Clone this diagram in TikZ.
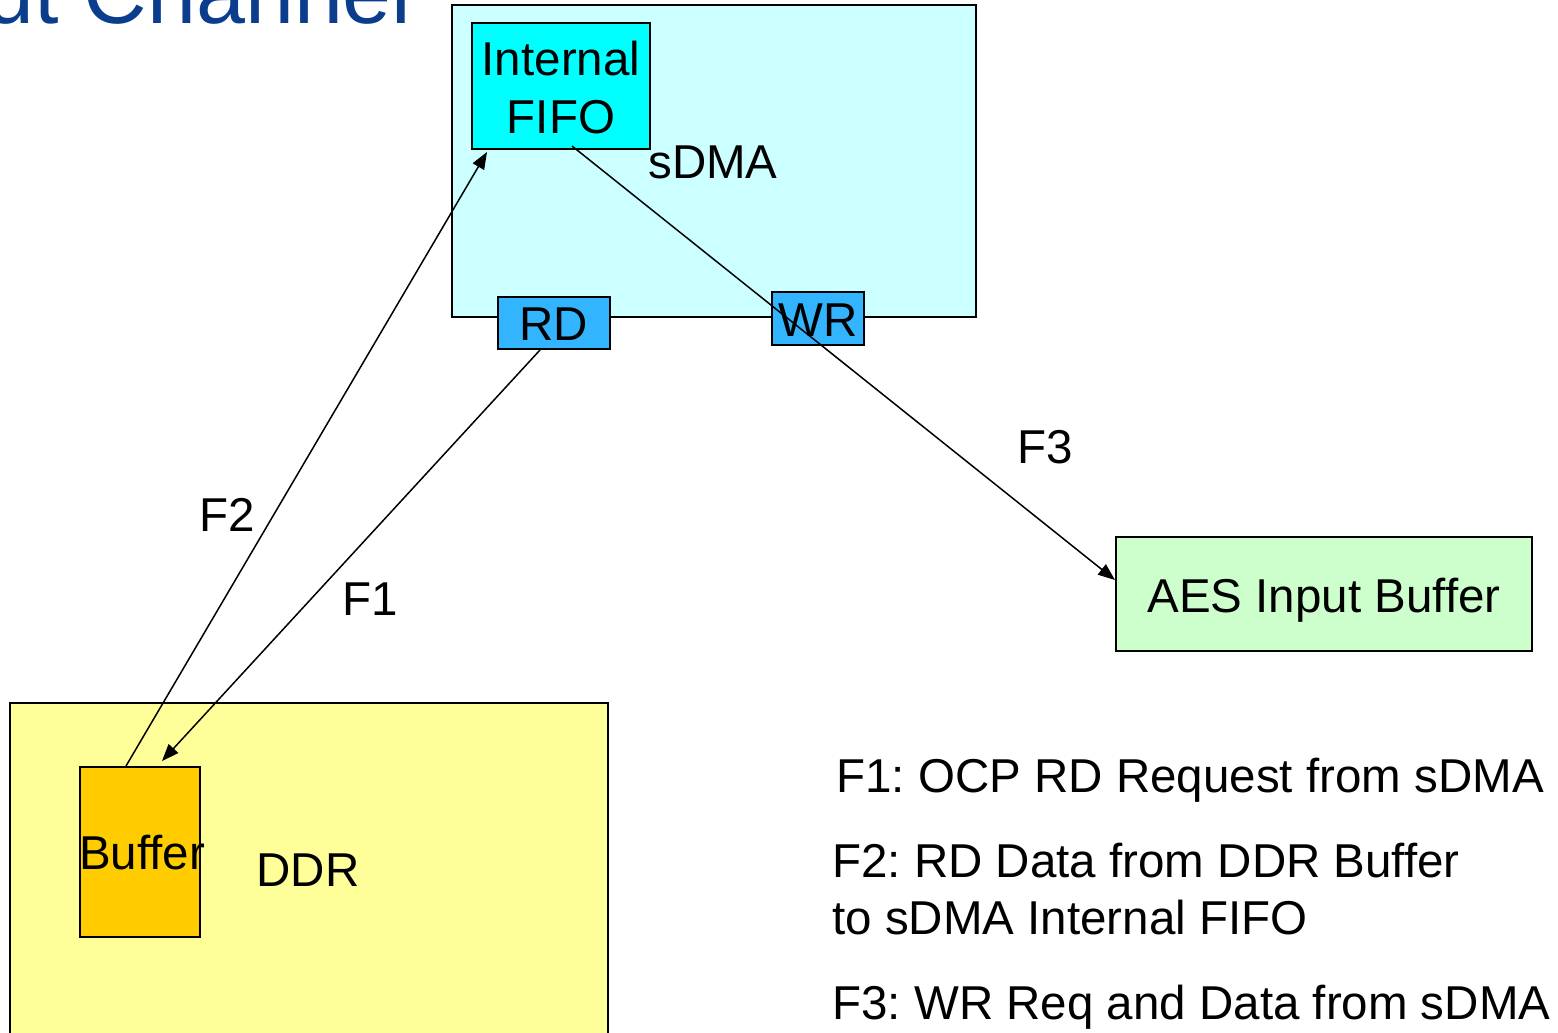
\documentclass[tikz,border=0pt]{standalone}
\usepackage{fontspec}
\setmainfont{Liberation Sans}
\usetikzlibrary{arrows.meta,calc}

\definecolor{titleblue}{RGB}{11,61,140}
\definecolor{sdmafill}{RGB}{204,255,255}
\definecolor{fifofill}{RGB}{0,255,255}
\definecolor{portfill}{RGB}{51,180,255}
\definecolor{aesfill}{RGB}{204,255,204}
\definecolor{ddrfill}{RGB}{255,255,153}
\definecolor{buffill}{RGB}{255,204,0}

\newcommand{\mainsize}{\fontsize{23.75}{29}\selectfont}
\frenchspacing

\begin{document}
\begin{tikzpicture}[x=0.5pt,y=-0.5pt,
  blockbox/.style={draw=black, line width=1pt, inner sep=0pt, align=center, font=\mainsize},
  plain/.style={inner sep=0pt, font=\mainsize},
  flow/.style={line width=0.75pt, -{Triangle[length=8.5pt,width=6.5pt]}}
]
\useasboundingbox (0,0) rectangle (1558,1033);
\clip (0,0) rectangle (1558,1033);

% slide title, running off the top left corner
\node[inner sep=0pt, anchor=base east, text=titleblue, font=\fontsize{44}{53}\selectfont]
  (title) at (412,24) {Input Channel};

% sDMA block with its FIFO and ports
\node[blockbox, fill=sdmafill, minimum width=262pt, minimum height=156pt] (sdma) at (714,161) {};
\node[plain] (sdmalbl) at (713,162.5) {sDMA};
\node[blockbox, fill=fifofill, minimum width=89pt, minimum height=63pt] (fifo) at (561,86) {};
\node[plain, align=center] (fifolbl) at (561,88) {Internal\\FIFO};
\node[blockbox, fill=portfill, minimum width=56pt, minimum height=26pt] (rd) at (554,323) {};
\node[plain] (rdlbl) at (554,324) {RD};
\node[blockbox, fill=portfill, minimum width=46pt, minimum height=26.5pt] (wr) at (818,318.5) {};
\node[plain] (wrlbl) at (818,320) {WR};

% AES input buffer
\node[blockbox, fill=aesfill, minimum width=208pt, minimum height=57pt] (aes) at (1324,594) {};
\node[plain, text depth=0pt] (aeslbl) at (1324,595.5) {AES Input Buffer};

% DDR memory with its buffer
\node[blockbox, fill=ddrfill, minimum width=299pt, minimum height=180pt] (ddr) at (309,883) {};
\node[plain] (ddrlbl) at (308,870) {DDR};
\node[blockbox, fill=buffill, minimum width=60pt, minimum height=85pt] (buffer) at (140,852) {};
\node[plain] (buflbl) at (142,852.5) {Buffer};

% flows
\coordinate (f1s) at ($(rd.south)+(-14,0)$);
\coordinate (f1e) at ($(buffer.north west)+(83,-5)$);
\coordinate (f2s) at ($(buffer.north west)+(47,0)$);
\coordinate (f2e) at ($(fifo.south west)+(16,2)$);
\coordinate (f3s) at ($(fifo.south)+(11,-4)$);
\coordinate (f3e) at ($(aes.west)+(0,-14)$);
\draw[flow] (f1s) -- (f1e);
\draw[flow] (f2s) -- (f2e);
\draw[flow] (f3s) -- (f3e);

\node[plain, anchor=base west] (f2lbl) at (199,531) {F2};
\node[plain, anchor=base west] (f1lbl) at (342,615) {F1};
\node[plain, anchor=base west] (f3lbl) at (1017,463) {F3};

% legend
\node[plain, anchor=base west] (leg1) at (836,792) {F1: OCP RD Request from sDMA};
\node[plain, anchor=base west] (leg2a) at (832,877) {F2: RD Data from DDR Buffer};
\node[plain, anchor=base west] (leg2b) at (832,934) {to sDMA Internal FIFO};
\node[plain, anchor=base west] (leg3) at (832,1019) {F3: WR Req and Data from sDMA};
\end{tikzpicture}
\end{document}
